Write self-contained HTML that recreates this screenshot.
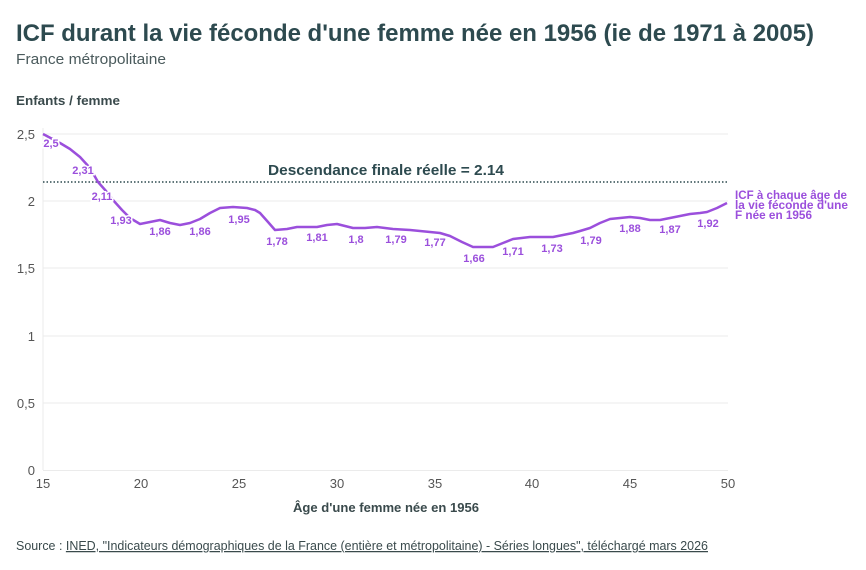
<!DOCTYPE html>
<html><head><meta charset="utf-8"><style>
html,body{margin:0;padding:0;background:#fff;}
svg{display:block;font-family:"Liberation Sans",sans-serif;}
</style></head><body>
<svg width="866" height="570" viewBox="0 0 866 570" xmlns="http://www.w3.org/2000/svg">
<text x="16" y="41" font-size="24" font-weight="bold" fill="#2d4a4f" textLength="798" lengthAdjust="spacingAndGlyphs">ICF durant la vie féconde d'une femme née en 1956 (ie de 1971 à 2005)</text>
<text x="16" y="64" font-size="14.5" fill="#4a5a5c" textLength="150" lengthAdjust="spacingAndGlyphs">France métropolitaine</text>
<text x="16" y="105" font-size="13" font-weight="bold" fill="#3a4a4c" textLength="104" lengthAdjust="spacingAndGlyphs">Enfants / femme</text>
<g stroke="#ebebeb" stroke-width="1">
<line x1="43" x2="728" y1="134" y2="134"/><line x1="43" x2="728" y1="201" y2="201"/>
<line x1="43" x2="728" y1="268" y2="268"/><line x1="43" x2="728" y1="336" y2="336"/>
<line x1="43" x2="728" y1="403" y2="403"/><line x1="43" x2="728" y1="470.5" y2="470.5"/>
<line x1="43" x2="43" y1="128" y2="470"/>
</g>
<g font-size="13" fill="#555" text-anchor="end">
<text x="35" y="139">2,5</text><text x="35" y="206">2</text><text x="35" y="273">1,5</text>
<text x="35" y="341">1</text><text x="35" y="408">0,5</text><text x="35" y="475">0</text>
</g>
<g font-size="13" fill="#555" text-anchor="middle">
<text x="43" y="488">15</text><text x="141" y="488">20</text><text x="239" y="488">25</text>
<text x="337" y="488">30</text><text x="435" y="488">35</text><text x="532" y="488">40</text>
<text x="630" y="488">45</text><text x="728" y="488">50</text>
</g>
<text x="386" y="512" font-size="13" font-weight="bold" fill="#3a4a4c" text-anchor="middle" textLength="186" lengthAdjust="spacingAndGlyphs">Âge d'une femme née en 1956</text>
<line x1="43" x2="728" y1="182" y2="182" stroke="#2d4a4f" stroke-width="1.5" stroke-dasharray="1.5,2"/>
<text x="386" y="175" font-size="15" font-weight="bold" fill="#2d4a4f" text-anchor="middle" textLength="236" lengthAdjust="spacingAndGlyphs">Descendance finale réelle = 2.14</text>
<polyline fill="none" stroke="#9b4fdc" stroke-width="2.5" stroke-linejoin="round" points="43,134 60,143 70,149 80,157 90,168 98,182 106,191 113,200 122,210 130,218 140,224 150,222 160,220 170,223 180,225 190,223 200,219 210,213 220,208 233,207 247,208 255,210 260,213 268,222 275,230 287,229 297,227 307,227 317,227 327,225 337,224 345,226 353,228 365,228 377,227 385,228 393,229 410,230 430,232 440,233 450,236 462,242 473,247 483,247 493,247 503,243 513,239 530,237 553,237 563,235 573,233 580,231 590,228 600,223 610,219 620,218 630,217 640,218 650,220 660,220 670,218 680,216 690,214 700,213 707,212 717,208 727,203"/>
<g font-size="11" font-weight="bold" fill="#9b4fdc" text-anchor="middle" stroke="#fff" stroke-width="3" paint-order="stroke">
<text x="51" y="147">2,5</text><text x="83" y="174">2,31</text><text x="102" y="200">2,11</text>
<text x="121" y="224">1,93</text><text x="160" y="235">1,86</text><text x="200" y="235">1,86</text>
<text x="239" y="223">1,95</text><text x="277" y="245">1,78</text><text x="317" y="241">1,81</text>
<text x="356" y="243">1,8</text><text x="396" y="243">1,79</text><text x="435" y="246">1,77</text>
<text x="474" y="262">1,66</text><text x="513" y="255">1,71</text><text x="552" y="252">1,73</text>
<text x="591" y="244">1,79</text><text x="630" y="232">1,88</text><text x="670" y="233">1,87</text>
<text x="708" y="227">1,92</text>
</g>
<g font-size="12" font-weight="bold" fill="#9b4fdc">
<text x="735" y="199" textLength="112" lengthAdjust="spacingAndGlyphs">ICF à chaque âge de</text>
<text x="735" y="209" textLength="113" lengthAdjust="spacingAndGlyphs">la vie féconde d'une</text>
<text x="735" y="219" textLength="77" lengthAdjust="spacingAndGlyphs">F née en 1956</text>
</g>
<text x="16" y="550" font-size="12.5" fill="#3a4a4c" textLength="692" lengthAdjust="spacingAndGlyphs">Source : <tspan text-decoration="underline">INED, "Indicateurs démographiques de la France (entière et métropolitaine) - Séries longues", téléchargé mars 2026</tspan></text>
</svg>
</body></html>
